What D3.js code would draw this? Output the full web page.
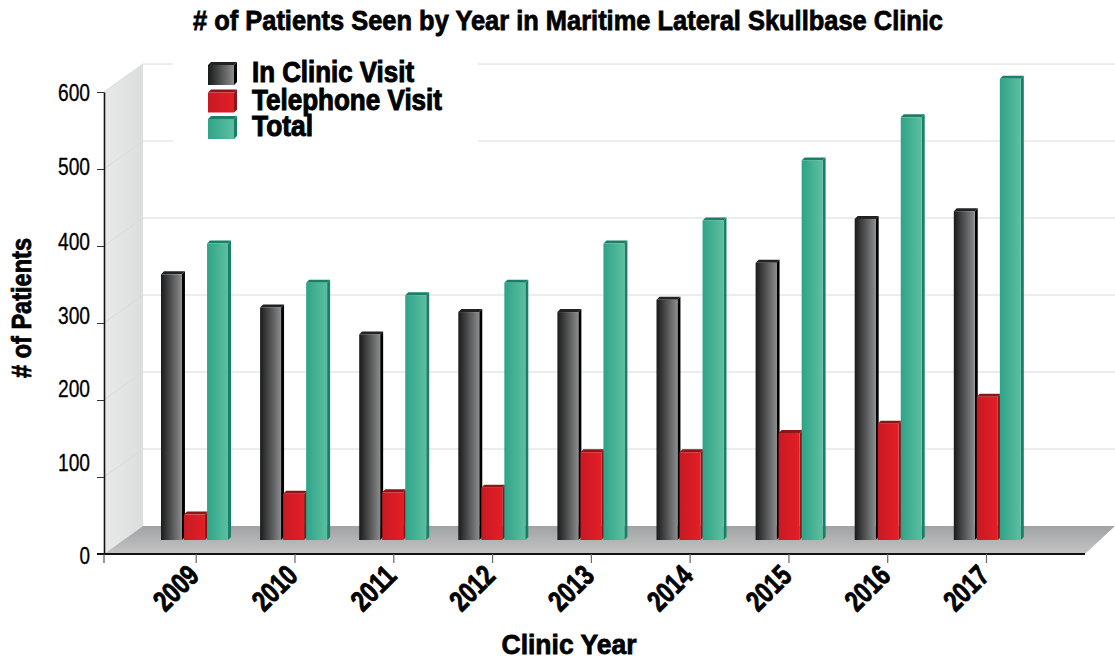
<!DOCTYPE html>
<html><head><meta charset="utf-8">
<script src="https://cdn.jsdelivr.net/npm/d3@7"></script>
<style>html,body{margin:0;background:#fff}svg{display:block}
text{font-family:"Liberation Sans",sans-serif;font-weight:700;fill:#000}</style>
</head><body><svg id="c" width="1115" height="660"></svg>
<script>
const years=["2009","2010","2011","2012","2013","2014","2015","2016","2017"];
const inClinic=[345,302,267,296,296,312,360,417,427];
const telephone=[33,60,62,68,114,114,139,151,186];
const total=[385,334,318,334,385,415,493,549,599];
const seriesNames=["In Clinic Visit","Telephone Visit","Total"];
const yTicks=[0,100,200,300,400,500,600];
const yLabelPlaces=[555,462,388,315,241,166,92];
const title="# of Patients Seen by Year in Maritime Lateral Skullbase Clinic";
const xTitle="Clinic Year", yTitle="# of Patients";

const svg=d3.select("#c"), defs=svg.append("defs");
const W=1115;
const grad=(id,c0,c1,vert)=>{const g=defs.append("linearGradient").attr("id",id)
  .attr("x1",0).attr("y1",0).attr("x2",vert?0:1).attr("y2",vert?1:0);
  g.append("stop").attr("offset",0).attr("stop-color",c0);
  g.append("stop").attr("offset",1).attr("stop-color",c1);};
grad("gk","#1a1a1a","#8a8c8e");grad("gr","#c81a24","#e41e26");grad("gg","#2fa388","#5cbf9f");
grad("wall","#e8eaea","#dcdede");grad("floor","#a0a3a3","#c3c5c5",true);
const styles=[{f:"url(#gk)",s:"#000",t:"#222"},{f:"url(#gr)",s:"#8c1518",t:"#8c1518"},{f:"url(#gg)",s:"#1a7f68",t:"#1a7f68"}];

const y=d3.scaleLinear().domain([0,600]).range([554,92]);
const dx=39, dy=-28;
const bar=d3.scaleLinear().domain([0,600]).range([540,78]);
const group=d3.scaleBand().domain(years).range([161,161+99.1*9]);
const inner=d3.scaleBand().domain(seriesNames).range([0,67]).paddingInner(0.09);
const xs=d3.scalePoint().domain(years).range([195.7,986]);
const yLab=d3.scaleOrdinal().domain(yTicks).range(yLabelPlaces);
const line=d3.line();

// wall
svg.append("path").attr("d",line([[104,y(600)],[104+dx,y(600)+dy],[104+dx,y(0)+dy],[104,y(0)]])+"Z").attr("fill","url(#wall)");
// floor
svg.append("path").attr("d",line([[104,y(0)],[104+dx,y(0)+dy],[W,y(0)+dy],[1085,y(0)]])+"Z").attr("fill","url(#floor)");
// grid
yTicks.slice(1).forEach(t=>{
  svg.append("path").attr("d",line([[104,y(t)],[104+dx,y(t)+dy],[W,y(t)+dy]])).attr("fill","none").attr("stroke","#d9dada").attr("stroke-width",1);
});
// legend backdrop
svg.append("rect").attr("x",173).attr("y",58).attr("width",305).attr("height",85).attr("fill","#fff");

// bars
const d3bar=(g,bx,w,top,base,st,dp)=>{
  g.append("path").attr("d",line([[bx+w,top],[bx+w+dp,top-dp],[bx+w+dp,base-dp],[bx+w,base]])+"Z").attr("fill",st.s);
  g.append("path").attr("d",line([[bx,top],[bx+dp,top-dp],[bx+w+dp,top-dp],[bx+w,top]])+"Z").attr("fill",st.t);
  g.append("rect").attr("x",bx).attr("y",top).attr("width",w).attr("height",base-top).attr("fill",st.f);
};
[inClinic,telephone,total].forEach((vals,i)=>{
  const g=svg.append("g");
  years.forEach((yr,j)=>{
    d3bar(g,group(yr)+inner(seriesNames[i]),inner.bandwidth(),bar(vals[j]),bar(0),styles[i],3);
  });
});

// axes
const ax=svg.append("g").attr("transform","translate(104,0)").call(d3.axisLeft(y).tickValues(yTicks).tickSize(7).tickSizeOuter(0));
ax.selectAll("text").attr("x",-14).attr("dy",null).attr("dominant-baseline","central")
  .attr("y",d=>yLab(d)-y(d)).attr("font-size",23.5).style("font-weight",400).attr("lengthAdjust","spacingAndGlyphs")
  .attr("textLength",d=>d===0?10.5:32).style("stroke","#000").style("stroke-width",.3).text(d=>d);
ax.select(".domain").attr("stroke","#111").attr("stroke-width",1.6);
ax.selectAll(".tick line").attr("stroke","#333");
const bx=svg.append("g").attr("transform","translate(0,554)").call(d3.axisBottom(xs).tickSize(9).tickSizeOuter(0));
bx.select(".domain").attr("d",line([[97,0],[1085,0]])).attr("stroke","#111").attr("stroke-width",2);
bx.selectAll(".tick line").attr("stroke","#666").attr("stroke-width",1.2);
bx.selectAll("text").attr("text-anchor","end").attr("font-size",29)
  .attr("transform","translate(-11,8) rotate(-45)").attr("dy","0.75em").attr("y",0).attr("x",0)
  .attr("lengthAdjust","spacingAndGlyphs").attr("textLength",50)
  .style("stroke","#000").style("stroke-width",.9);
svg.append("path").attr("d",line([[104,554],[104,563]])).attr("stroke","#555").attr("stroke-width",1.2);

// legend
const legendLen=[162,190,61];
seriesNames.forEach((n,i)=>{
  const ly=[62,89.5,116][i];
  const g=svg.append("g");
  d3bar(g,208,26,ly+3,ly+23,styles[i],3);
  g.append("text").attr("x",252).attr("y",ly+20).attr("font-size",29).attr("stroke","#000").attr("stroke-width",1)
   .attr("lengthAdjust","spacingAndGlyphs").attr("textLength",legendLen[i]).text(n);
});
// titles
const big=(sel,len)=>sel.attr("text-anchor","middle").attr("font-size",28).attr("stroke","#000").attr("stroke-width",.8)
  .attr("lengthAdjust","spacingAndGlyphs").attr("textLength",len);
big(svg.append("text").attr("x",568).attr("y",30).text(title),750);
big(svg.append("text").attr("x",569).attr("y",654).text(xTitle),135);
big(svg.append("text").attr("transform","translate(31,308) rotate(-90)").text(yTitle),140);
</script></body></html>
